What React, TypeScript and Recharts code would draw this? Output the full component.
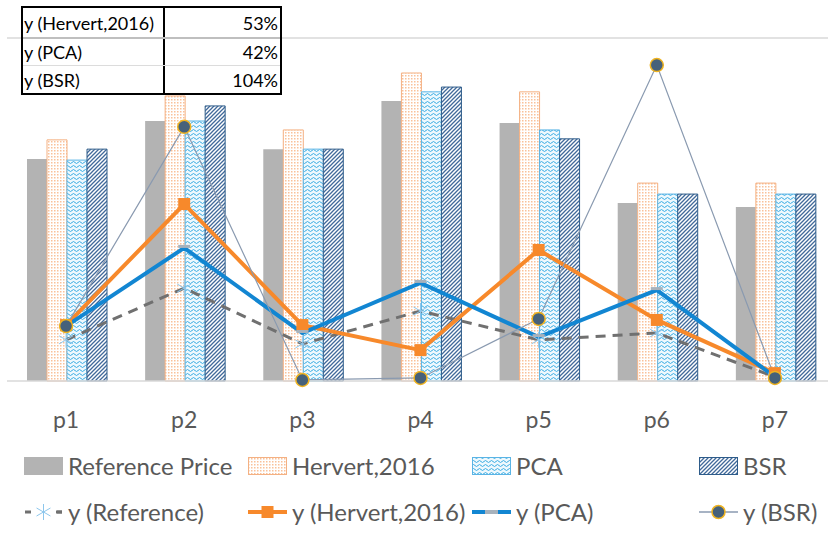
import React from "react";
import {
  ComposedChart,
  Bar,
  Line,
  XAxis,
  YAxis,
  CartesianGrid,
  Legend,
} from "recharts";

const categories = ["p1", "p2", "p3", "p4", "p5", "p6", "p7"];

// bar series (left axis)
const refPrice = [64.7, 75.8, 67.6, 81.6, 75.2, 51.9, 50.7];
const hervert = [70.3, 83.1, 73.2, 89.8, 84.3, 57.7, 57.7];
const pca = [64.4, 75.8, 67.6, 84.3, 73.2, 54.5, 54.5];
const bsr = [67.6, 80.2, 67.6, 85.7, 70.6, 54.5, 54.5];

// line series (right axis)
const yRef = [12.0, 27.1, 10.8, 20.4, 12.0, 14.0, 1.2];
const yHervert = [16.3, 51.6, 16.3, 9.0, 38.2, 17.8, 2.3];
const yPca = [16.0, 38.8, 14.0, 28.6, 12.8, 26.5, 1.2];
const yBsr = [16.0, 74.1, 0.3, 0.9, 18.1, 92.1, 0.9];

// summary table in the corner
const tableLabels = ["y (Hervert,2016)", "y (PCA)", "y (BSR)"];
const tableValues = ["53%", "42%", "104%"];

const data = categories.map((name, i) => ({
  name,
  refPrice: refPrice[i],
  hervert: hervert[i],
  pca: pca[i],
  bsr: bsr[i],
  yRef: yRef[i],
  yHervert: yHervert[i],
  yPca: yPca[i],
  yBsr: yBsr[i],
}));

const FONT = "Lato, 'Open Sans', sans-serif";
const TEXT = "#595959";

const ORANGE = "#f7892b";
const BLUE = "#1286d2";

const StarDot = ({ cx, cy }: any) => {
  if (cx == null || cy == null) return <g />;
  const r = 8;
  return (
    <g stroke="#8cc6ec" strokeWidth={1}>
      <line x1={cx} y1={cy - r} x2={cx} y2={cy + r} />
      <line x1={cx - r * 0.87} y1={cy - r * 0.5} x2={cx + r * 0.87} y2={cy + r * 0.5} />
      <line x1={cx - r * 0.87} y1={cy + r * 0.5} x2={cx + r * 0.87} y2={cy - r * 0.5} />
    </g>
  );
};

const SquareDot = ({ cx, cy }: any) => {
  if (cx == null || cy == null) return <g />;
  return <rect x={cx - 6} y={cy - 6} width={12} height={12} fill={ORANGE} />;
};

const DashDot = ({ cx, cy }: any) => {
  if (cx == null || cy == null) return <g />;
  return <rect x={cx - 6} y={cy - 3} width={12} height={3} fill="#a7b2bc" />;
};

const CircleDot = ({ cx, cy }: any) => {
  if (cx == null || cy == null) return <g />;
  return <circle cx={cx} cy={cy} r={6.5} fill="#46617a" stroke="#efb320" strokeWidth={1.5} />;
};

const Patterns = () => (
  <defs>
    <pattern id="patHervert" patternUnits="userSpaceOnUse" width={3} height={3}>
      <rect width={3} height={3} fill="#fff" />
      <rect x={0} y={0} width={1.5} height={1.5} fill="#f9c19a" />
    </pattern>
    <pattern id="patPca" patternUnits="userSpaceOnUse" width={6} height={4}>
      <rect width={6} height={4} fill="#eef8fd" />
      <path d="M0 2.5 Q1.5 0.5 3 2.5 T6 2.5" fill="none" stroke="#38ace3" strokeWidth={1} />
    </pattern>
    <pattern id="patBsr" patternUnits="userSpaceOnUse" width={4} height={4}>
      <rect width={4} height={4} fill="#fff" />
      <path d="M-1 1 L1 -1 M0 4 L4 0 M3 5 L5 3" stroke="#41699a" strokeWidth={1.3} />
    </pattern>
  </defs>
);

type LegendItem = {
  label: string;
  x: number;
  row: number;
  swatch: () => React.ReactNode;
};

const legendItems: LegendItem[] = [
  {
    label: "Reference Price",
    x: 24,
    row: 0,
    swatch: () => <rect x={0} y={2} width={39} height={18} fill="#b3b3b3" />,
  },
  {
    label: "Hervert,2016",
    x: 248,
    row: 0,
    swatch: () => (
      <rect x={0.5} y={2.5} width={38} height={17} fill="url(#patHervert)" stroke="#f4b183" />
    ),
  },
  {
    label: "PCA",
    x: 472,
    row: 0,
    swatch: () => (
      <rect x={0.5} y={2.5} width={38} height={17} fill="url(#patPca)" stroke="#5ab4e5" />
    ),
  },
  {
    label: "BSR",
    x: 699,
    row: 0,
    swatch: () => (
      <rect x={0.5} y={2.5} width={38} height={17} fill="url(#patBsr)" stroke="#2e5c8a" />
    ),
  },
  {
    label: "y (Reference)",
    x: 24,
    row: 1,
    swatch: () => (
      <g>
        <line x1={1} y1={11} x2={38} y2={11} stroke="#707070" strokeWidth={3} strokeDasharray="6 25" />
        <line x1={33} y1={11} x2={38} y2={11} stroke="#707070" strokeWidth={3} />
        <StarDot cx={19.5} cy={11} />
      </g>
    ),
  },
  {
    label: "y (Hervert,2016)",
    x: 248,
    row: 1,
    swatch: () => (
      <g>
        <line x1={0} y1={11} x2={39} y2={11} stroke={ORANGE} strokeWidth={4} />
        <SquareDot cx={19.5} cy={11} />
      </g>
    ),
  },
  {
    label: "y (PCA)",
    x: 472,
    row: 1,
    swatch: () => (
      <g>
        <line x1={0} y1={11} x2={39} y2={11} stroke={BLUE} strokeWidth={4} />
        <rect x={13} y={9} width={13} height={4} fill="#a7b2bc" />
      </g>
    ),
  },
  {
    label: "y (BSR)",
    x: 699,
    row: 1,
    swatch: () => (
      <g>
        <line x1={0} y1={11} x2={39} y2={11} stroke="#8a9ab0" strokeWidth={1.5} />
        <CircleDot cx={19.5} cy={11} />
      </g>
    ),
  },
];

const ChartLegend = () => (
  <div style={{ position: "relative", width: 828, height: 90, fontFamily: FONT }}>
    {legendItems.map((it) => (
      <div
        key={it.label}
        style={{
          position: "absolute",
          left: it.x,
          top: it.row * 46,
          height: 24,
          display: "flex",
          alignItems: "center",
          whiteSpace: "nowrap",
        }}
      >
        <svg width={40} height={22} style={{ overflow: "visible" }}>
          {it.swatch()}
        </svg>
        <span style={{ marginLeft: 4, fontSize: 24, color: TEXT, lineHeight: "24px" }}>
          {it.label}
        </span>
      </div>
    ))}
  </div>
);

const SummaryTable = () => (
  <div
    style={{
      position: "absolute",
      left: 21,
      top: 6,
      width: 257,
      border: "2px solid #000",
      background: "#fff",
      fontFamily: FONT,
      fontSize: 18,
      color: "#000",
      zIndex: 5,
    }}
  >
    {tableLabels.map((label, i) => (
      <div
        key={label}
        style={{
          display: "flex",
          height: i === 0 ? 29 : 28,
          borderTop: i === 0 ? "none" : i === 1 ? "2px solid #bfbfbf" : "1px solid #dcdcdc",
          boxSizing: "border-box",
        }}
      >
        <div
          style={{
            width: 139,
            borderRight: "2px solid #000",
            paddingLeft: 1,
            display: "flex",
            alignItems: "center",
          }}
        >
          {label}
        </div>
        <div
          style={{
            flex: 1,
            paddingRight: 2,
            display: "flex",
            alignItems: "center",
            justifyContent: "flex-end",
          }}
        >
          {tableValues[i]}
        </div>
      </div>
    ))}
  </div>
);

const App = () => {
  return (
    <div
      style={{
        position: "absolute",
        left: 0,
        top: 0,
        width: 828,
        height: 533,
        overflow: "hidden",
        background: "#fff",
      }}
    >
      <ComposedChart
        width={836}
        height={533}
        data={data}
        margin={{ top: 38, right: 2, left: 7, bottom: 92 }}
        barCategoryGap={20}
        barGap={0}
      >
        <Patterns />
        <CartesianGrid
          vertical={false}
          horizontalPoints={[38]}
          stroke="#d9d9d9"
          strokeWidth={1.5}
        />
        <XAxis
          dataKey="name"
          height={60}
          tickLine={false}
          axisLine={{ stroke: "#d9d9d9", strokeWidth: 1.5 }}
          tickMargin={25}
          tick={{ fontSize: 23, fill: TEXT, fontFamily: FONT }}
        />
        <YAxis yAxisId="left" hide domain={[0, 100]} />
        <YAxis yAxisId="right" orientation="right" hide domain={[0, 100]} />
        <Bar yAxisId="left" dataKey="refPrice" name="Reference Price" fill="#b3b3b3" isAnimationActive={false} />
        <Bar yAxisId="left" dataKey="hervert" name="Hervert,2016" fill="url(#patHervert)" stroke="#f4b183" strokeWidth={1} isAnimationActive={false} />
        <Bar yAxisId="left" dataKey="pca" name="PCA" fill="url(#patPca)" stroke="#5ab4e5" strokeWidth={1} isAnimationActive={false} />
        <Bar yAxisId="left" dataKey="bsr" name="BSR" fill="url(#patBsr)" stroke="#2e5c8a" strokeWidth={1} isAnimationActive={false} />
        <Line
          yAxisId="right"
          dataKey="yRef"
          name="y (Reference)"
          stroke="#707070"
          strokeWidth={3}
          strokeDasharray="10 7"
          dot={<StarDot />}
          activeDot={false}
          isAnimationActive={false}
        />
        <Line
          yAxisId="right"
          dataKey="yHervert"
          name="y (Hervert,2016)"
          stroke={ORANGE}
          strokeWidth={4}
          dot={<SquareDot />}
          activeDot={false}
          isAnimationActive={false}
        />
        <Line
          yAxisId="right"
          dataKey="yPca"
          name="y (PCA)"
          stroke={BLUE}
          strokeWidth={4}
          dot={<DashDot />}
          activeDot={false}
          isAnimationActive={false}
        />
        <Line
          yAxisId="right"
          dataKey="yBsr"
          name="y (BSR)"
          stroke="#8a9ab0"
          strokeWidth={1.2}
          dot={<CircleDot />}
          activeDot={false}
          isAnimationActive={false}
        />
        <Legend
          verticalAlign="middle"
          align="center"
          layout="horizontal"
          width={828}
          height={90}
          wrapperStyle={{ top: 454, left: 0, width: 828, height: 90 }}
          content={() => <ChartLegend />}
        />
      </ComposedChart>
      <SummaryTable />
    </div>
  );
};

export default App;
